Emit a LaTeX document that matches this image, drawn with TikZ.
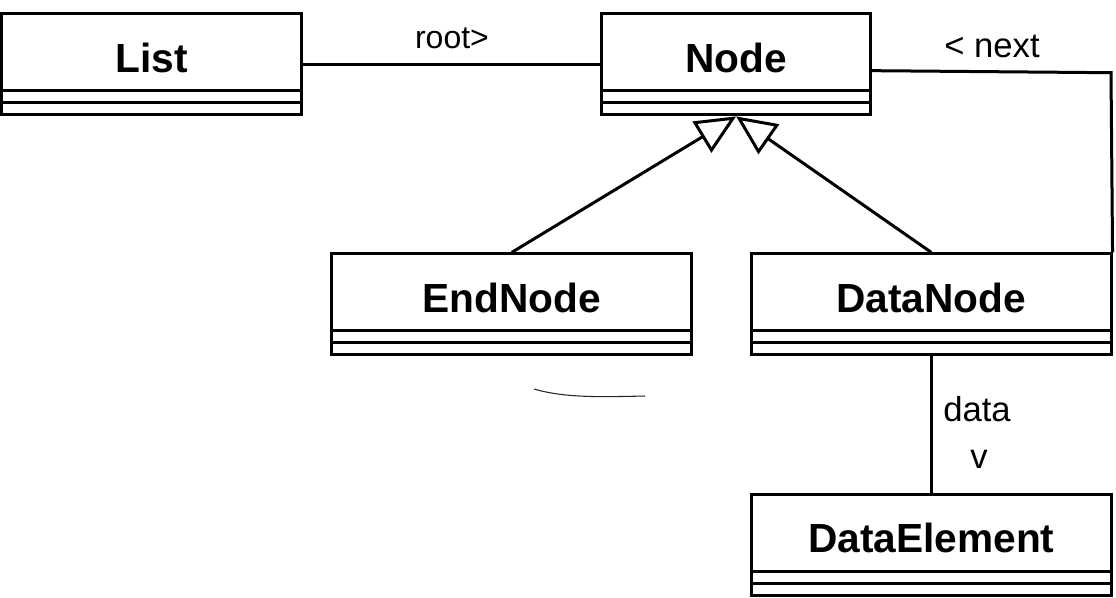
\documentclass[tikz,border=0pt]{standalone}
\usepackage{fontspec}
\setmainfont{Liberation Sans}
\usetikzlibrary{arrows.meta}

\begin{document}
\begin{tikzpicture}[x=0.75pt,y=-0.75pt,
  classbox/.style={draw,line width=2.25pt,minimum height=75.75pt,inner sep=0pt,
    font=\bfseries\fontsize{30.5}{32}\selectfont,text height=22pt,text depth=10pt,
    path picture={
      \draw[line width=2.25pt] ([yshift=9pt]path picture bounding box.south west) -- ([yshift=9pt]path picture bounding box.south east);
      \draw[line width=2.25pt] ([yshift=18pt]path picture bounding box.south west) -- ([yshift=18pt]path picture bounding box.south east);
    }},
  lbl/.style={font=\fontsize{26}{30}\selectfont,inner sep=0pt,anchor=base},
  assoc/.style={line width=2.25pt},
  inherit/.style={line width=2.25pt,-{Triangle[open,length=30pt,width=27pt]}}]
\useasboundingbox (0,0) rectangle (1116,597);

% classes
\node[classbox,minimum width=225pt] (list) at (151.5,64.4) {List};
\node[classbox,minimum width=201.6pt] (node) at (736.1,64.4) {Node};
\node[classbox,minimum width=269.6pt] (endnode) at (511.7,304.4) {EndNode};
\node[classbox,minimum width=269.6pt] (datanode) at (931.3,304.4) {DataNode};
\node[classbox,minimum width=269.6pt] (dataelement) at (931.3,544.75) {DataElement};

% associations
\coordinate (nextbend) at (1111,72.7);
\draw[assoc] (list.east) -- (node.west);
\draw[assoc] ([yshift=-4.7pt]node.east) -- (nextbend) -- (datanode.north east);
\draw[assoc] (datanode.south) -- (dataelement.north);

% inheritance
\draw[inherit] (endnode.north) -- (node.south);
\draw[inherit] (datanode.north) -- (node.south);

% labels
\node[lbl,font=\fontsize{24}{28}\selectfont] (rootlbl) at (452,48) {root>};
\node[lbl] (nextlbl) at (992,57.4) {< next};
\node[lbl] (datalbl) at (977,421.7) {data};
\node[lbl] (datav) at (979,468) {v};

% stray mark
\draw[line width=0.8pt,black!85] (534,389) .. controls (565,398) and (600,397) .. (645,396);
\end{tikzpicture}
\end{document}
